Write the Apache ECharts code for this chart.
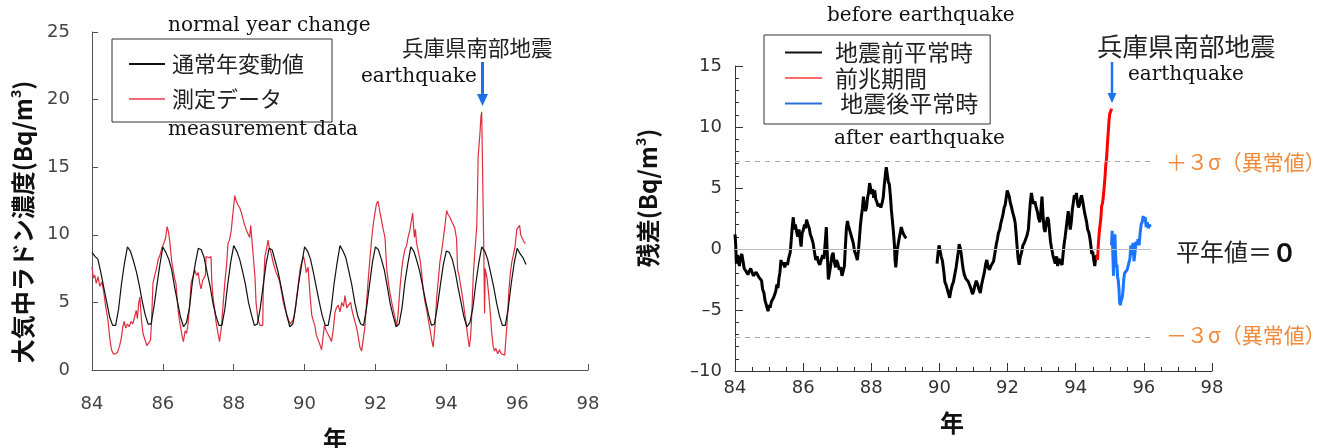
<!DOCTYPE html>
<html><head><meta charset="utf-8">
<script src="https://cdn.jsdelivr.net/npm/echarts@6/dist/echarts.min.js"></script>
<style>html,body{margin:0;padding:0;background:#fff}#c{width:1319px;height:448px}</style>
</head><body><div id="c"></div>
<script>
// ---------- DATA ----------
const xMin = 84, xMax = 98, xStep = 2;
const leftYMin = 0, leftYMax = 25, leftYStep = 5;
const rightYMin = -10, rightYMax = 15, rightYStep = 5;
const sigma3 = 7.2;          // ±3σ level
const refLineEnd = 96.2;     // end year of reference lines

// Left: normal-year change, monthly values starting Jan 1984
const normalStart = 84;
const normalMonthly = [
  8.7, 8.4, 8.2, 7.2, 6.1, 5.0, 3.9, 3.3, 3.3, 4.5, 6.4, 7.9,
  9.1, 8.8, 8.1, 7.3, 6.3, 5.1, 4.1, 3.4, 3.4, 4.7, 6.3, 7.8,
  9.1, 8.7, 8.2, 7.4, 6.1, 5.0, 3.9, 3.2, 3.5, 4.6, 6.5, 7.9,
  9.0, 8.9, 8.3, 7.2, 6.2, 4.9, 4.0, 3.3, 3.3, 4.5, 6.4, 8.0,
  9.2, 8.8, 8.2, 7.3, 6.3, 5.0, 4.1, 3.3, 3.4, 4.6, 6.3, 7.9,
  9.0, 8.9, 8.1, 7.3, 6.2, 5.1, 4.0, 3.2, 3.4, 4.7, 6.4, 7.8,
  9.1, 8.8, 8.2, 7.2, 6.1, 5.0, 4.0, 3.3, 3.3, 4.5, 6.4, 7.9,
  9.2, 8.8, 8.3, 7.3, 6.3, 5.0, 4.0, 3.4, 3.3, 4.6, 6.3, 8.0,
  9.1, 8.9, 8.2, 7.4, 6.2, 4.9, 4.0, 3.2, 3.4, 4.6, 6.5, 7.9,
  9.1, 8.8, 8.1, 7.3, 6.2, 5.1, 4.1, 3.3, 3.4, 4.7, 6.3, 7.8,
  8.8, 8.7, 8.2, 7.3, 6.1, 5.0, 3.9, 3.2, 3.5, 4.6, 6.4, 7.9,
  9.1, 8.8, 8.2, 7.2, 6.2, 5.0, 4.0, 3.3, 3.3, 4.6, 6.4, 7.9,
  9.0, 8.6, 8.3, 7.8
];

// Left: measured radon concentration [year, Bq/m3]
const measured = [
  [84.00,7.6],[84.04,6.8],[84.08,7.0],[84.12,6.4],[84.17,6.9],[84.22,6.2],[84.28,6.5],[84.33,5.8],[84.38,4.8],[84.45,3.7],
  [84.50,2.4],[84.55,1.5],[84.60,1.2],[84.66,1.2],[84.72,1.3],[84.78,1.8],[84.83,2.4],[84.87,3.2],[84.91,3.6],[84.95,3.1],
  [85.00,3.4],[85.05,3.2],[85.10,3.6],[85.15,3.4],[85.20,3.9],[85.25,4.4],[85.28,3.8],[85.32,5.0],[85.35,5.4],[85.40,3.6],
  [85.44,2.7],[85.50,2.2],[85.55,1.8],[85.60,1.7],[85.65,2.2],[85.68,3.5],[85.72,6.4],[85.77,7.0],[85.82,7.5],[85.87,8.2],
  [85.92,8.5],[85.97,9.0],[86.03,9.4],[86.08,9.8],[86.12,10.6],[86.16,10.2],[86.20,9.4],[86.25,8.0],[86.29,7.4],[86.33,6.8],
  [86.37,6.4],[86.42,4.7],[86.46,3.8],[86.50,3.2],[86.55,2.4],[86.58,2.1],[86.63,2.9],[86.67,2.7],[86.71,3.4],[86.76,4.9],
  [86.80,6.5],[86.85,6.9],[86.90,7.4],[86.95,7.0],[87.00,7.2],[87.04,6.4],[87.08,6.0],[87.12,6.6],[87.17,6.5],[87.20,7.0],
  [87.22,8.4],[87.30,8.3],[87.36,8.4],[87.38,6.6],[87.41,5.5],[87.46,4.5],[87.50,3.6],[87.55,2.8],[87.60,2.1],[87.65,3.1],
  [87.70,4.8],[87.75,6.5],[87.80,7.8],[87.84,9.4],[87.88,9.6],[87.93,10.3],[87.97,11.4],[88.03,12.9],[88.07,12.5],[88.12,12.2],
  [88.17,12.0],[88.22,11.6],[88.26,11.2],[88.30,10.8],[88.35,10.4],[88.40,10.3],[88.45,9.8],[88.48,10.7],[88.52,9.4],[88.56,9.4],
  [88.60,6.9],[88.63,5.0],[88.68,3.8],[88.74,3.3],[88.82,3.3],[88.83,5.5],[88.88,8.4],[88.93,9.0],[88.97,9.6],[89.00,9.1],
  [89.05,8.7],[89.10,8.1],[89.15,7.6],[89.20,7.2],[89.25,6.9],[89.30,6.5],[89.35,5.8],[89.40,5.0],[89.45,4.5],[89.50,4.1],
  [89.55,3.7],[89.60,3.4],[89.65,3.6],[89.70,3.8],[89.74,4.6],[89.78,5.5],[89.83,6.5],[89.87,7.4],[89.92,8.0],[89.97,8.4],
  [90.01,7.9],[90.05,7.2],[90.10,7.6],[90.15,5.7],[90.20,4.1],[90.25,3.6],[90.29,3.3],[90.33,2.6],[90.38,2.5],[90.43,1.9],
  [90.48,1.5],[90.52,2.4],[90.56,3.3],[90.61,2.9],[90.66,2.8],[90.71,2.4],[90.76,2.1],[90.81,3.0],[90.86,4.3],[90.90,4.6],
  [90.95,4.8],[91.00,4.3],[91.05,5.0],[91.10,4.7],[91.14,5.5],[91.19,4.6],[91.24,4.5],[91.30,5.0],[91.34,4.4],[91.37,4.1],
  [91.42,3.6],[91.47,3.1],[91.52,2.4],[91.56,1.7],[91.61,1.4],[91.65,1.3],[91.70,3.1],[91.75,5.0],[91.80,6.8],[91.85,8.4],
  [91.89,9.6],[91.93,10.6],[91.98,11.5],[92.03,12.3],[92.07,12.5],[92.10,12.4],[92.14,11.5],[92.17,11.1],[92.22,10.4],[92.27,9.8],
  [92.32,7.4],[92.37,6.4],[92.41,5.7],[92.46,5.0],[92.50,4.5],[92.55,3.9],[92.60,3.3],[92.64,4.1],[92.69,6.0],[92.74,7.4],
  [92.78,8.2],[92.83,8.9],[92.88,9.2],[92.92,9.8],[92.97,10.3],[93.00,10.8],[93.05,11.6],[93.10,9.8],[93.13,10.4],[93.16,9.4],
  [93.20,8.9],[93.27,8.0],[93.31,7.0],[93.35,5.9],[93.40,5.0],[93.45,4.4],[93.50,3.6],[93.54,3.0],[93.59,2.2],[93.63,1.7],
  [93.68,3.2],[93.73,5.4],[93.78,6.8],[93.82,8.0],[93.87,8.8],[93.91,9.6],[93.96,10.6],[94.01,11.8],[94.05,11.5],[94.10,11.3],
  [94.15,11.0],[94.19,10.9],[94.24,10.5],[94.29,9.7],[94.32,7.4],[94.36,7.0],[94.39,6.5],[94.44,5.7],[94.48,5.0],[94.53,4.0],
  [94.58,3.0],[94.62,2.2],[94.65,1.7],[94.68,2.3],[94.71,3.5],[94.76,6.9],[94.81,8.9],[94.86,10.6],[94.88,13.0],[94.90,15.8],
  [94.95,17.5],[94.98,18.8],[95.00,19.1],[95.04,19.0],[95.06,8.6],[95.08,4.2],[95.10,7.5],[95.15,6.8],[95.20,5.5],[95.25,4.0],
  [95.28,2.8],[95.32,1.8],[95.36,1.4],[95.40,1.6],[95.45,1.2],[95.50,1.5],[95.55,1.2],[95.60,1.3],[95.65,1.1],[95.68,2.2],
  [95.72,3.6],[95.77,6.0],[95.81,7.2],[95.85,8.0],[95.90,8.6],[95.94,9.1],[95.99,10.4],[96.03,10.5],[96.07,10.7],[96.10,10.0],
  [96.13,10.1],[96.17,9.6],[96.21,9.4],[96.24,9.4]
];

// Right: residuals [year, Bq/m3]
const beforeA = [
  [84.00,1.2],[84.02,0.4],[84.04,-1.2],[84.07,-0.5],[84.10,-0.6],[84.13,-1.4],[84.16,-0.7],[84.20,-0.4],[84.23,-0.9],[84.27,-1.6],
  [84.30,-1.7],[84.34,-1.9],[84.38,-2.1],[84.42,-1.8],[84.46,-1.6],[84.50,-1.7],[84.54,-2.2],[84.58,-2.1],[84.62,-1.9],[84.66,-1.8],
  [84.70,-2.3],[84.74,-2.4],[84.78,-2.6],[84.81,-3.3],[84.85,-3.6],[84.88,-4.2],[84.91,-4.5],[84.94,-4.8],[84.97,-5.1],[85.00,-4.6],
  [85.03,-4.8],[85.07,-4.3],[85.10,-4.4],[85.13,-4.0],[85.17,-3.7],[85.20,-3.4],[85.23,-2.9],[85.26,-3.2],[85.29,-2.4],[85.32,-1.9],
  [85.35,-0.9],[85.38,-1.3],[85.42,-1.1],[85.46,-1.5],[85.50,-1.1],[85.54,-1.3],[85.58,-0.7],[85.62,-0.3],[85.65,0.7],[85.68,1.8],
  [85.71,2.6],[85.74,1.6],[85.77,2.0],[85.81,1.4],[85.84,1.0],[85.88,1.6],[85.91,0.9],[85.94,0.2],[85.97,1.3],[86.00,1.5],
  [86.04,2.0],[86.07,1.7],[86.10,2.4],[86.14,2.0],[86.18,1.7],[86.21,1.2],[86.25,0.9],[86.29,0.5],[86.33,-0.2],[86.37,-0.9],
  [86.41,-0.6],[86.45,-1.1],[86.49,-1.3],[86.53,-0.9],[86.57,-0.5],[86.61,-0.8],[86.65,0.6],[86.68,1.8],[86.71,-0.5],[86.74,-2.5],
  [86.77,-2.0],[86.80,-1.5],[86.84,-0.6],[86.88,-0.3],[86.91,-1.0],[86.95,-1.5],[86.98,-0.9],[87.02,-1.2],[87.06,-1.7],[87.10,-1.5],
  [87.14,-2.2],[87.18,-2.3],[87.21,-1.4],[87.24,0.2],[87.27,1.7],[87.30,2.3],[87.33,1.9],[87.36,1.8],[87.39,1.3],[87.43,0.9],
  [87.47,0.5],[87.51,-0.2],[87.55,-0.5],[87.59,-0.9],[87.62,-0.2],[87.65,0.8],[87.68,1.9],[87.71,2.7],[87.74,3.3],[87.77,4.3],
  [87.80,3.5],[87.83,3.1],[87.86,3.4],[87.89,4.2],[87.92,4.6],[87.95,5.4],[87.98,5.0],[88.01,4.5],[88.04,4.9],[88.07,4.2],
  [88.10,4.8],[88.13,4.1],[88.17,3.8],[88.20,3.5],[88.24,3.7],[88.28,3.4],[88.32,3.8],[88.35,4.2],[88.38,5.2],[88.41,6.0],
  [88.44,6.7],[88.47,6.1],[88.50,5.5],[88.53,5.3],[88.56,4.4],[88.59,3.2],[88.62,2.3],[88.65,1.4],[88.68,0.3],[88.70,-1.0],
  [88.72,-1.5],[88.74,-0.8],[88.76,-0.1],[88.79,0.4],[88.82,0.9],[88.85,1.3],[88.88,1.8],[88.91,1.5],[88.95,1.2],[88.99,1.0],
  [89.03,0.9]
];
const beforeB = [
  [89.93,-1.2],[89.96,-0.3],[89.99,0.3],[90.02,0.2],[90.05,-0.6],[90.09,-1.0],[90.13,-1.9],[90.16,-2.7],[90.20,-3.0],[90.24,-3.4],
  [90.27,-3.7],[90.30,-4.0],[90.33,-3.5],[90.37,-3.0],[90.41,-2.7],[90.45,-2.1],[90.49,-1.5],[90.52,-0.9],[90.55,-0.3],[90.58,0.4],
  [90.61,0.1],[90.64,-0.4],[90.67,-1.1],[90.70,-1.7],[90.73,-2.1],[90.77,-2.4],[90.81,-2.5],[90.85,-2.7],[90.89,-3.0],[90.93,-3.3],
  [90.97,-3.7],[91.00,-3.5],[91.04,-3.0],[91.08,-2.6],[91.12,-2.9],[91.16,-3.3],[91.20,-3.6],[91.24,-2.9],[91.28,-2.4],[91.32,-1.9],
  [91.36,-1.2],[91.39,-0.9],[91.43,-1.5],[91.47,-1.7],[91.51,-1.4],[91.55,-1.2],[91.59,-1.0],[91.63,-0.3],[91.67,0.4],[91.70,0.8],
  [91.73,1.3],[91.77,1.6],[91.80,2.1],[91.83,2.4],[91.87,2.9],[91.90,3.4],[91.93,3.6],[91.96,4.2],[91.99,4.8],[92.02,4.7],
  [92.05,4.3],[92.08,3.8],[92.11,3.5],[92.15,3.0],[92.19,2.6],[92.22,2.2],[92.25,1.3],[92.28,0.2],[92.31,-0.8],[92.34,-1.3],
  [92.37,-0.7],[92.41,-0.3],[92.45,0.3],[92.49,0.5],[92.53,0.8],[92.57,1.1],[92.61,1.6],[92.64,2.8],[92.67,3.9],[92.70,4.6],
  [92.73,4.1],[92.76,3.7],[92.80,3.9],[92.84,3.4],[92.88,3.0],[92.91,2.5],[92.95,2.2],[92.98,3.2],[93.01,4.3],[93.04,2.8],
  [93.07,1.7],[93.10,1.4],[93.13,2.0],[93.17,2.6],[93.20,2.4],[93.23,1.5],[93.26,0.6],[93.29,0.1],[93.33,-0.5],[93.37,-0.9],
  [93.40,-1.2],[93.44,-0.6],[93.47,-1.4],[93.51,-0.8],[93.55,-1.1],[93.60,-1.3],[93.63,-0.4],[93.66,0.4],[93.69,1.0],[93.72,1.7],
  [93.75,2.4],[93.78,3.1],[93.81,2.3],[93.84,1.6],[93.87,2.2],[93.90,3.2],[93.93,3.8],[93.96,4.4],[93.99,4.1],[94.02,4.6],
  [94.05,3.8],[94.08,3.4],[94.11,3.6],[94.14,4.1],[94.17,4.4],[94.20,4.0],[94.23,3.5],[94.26,3.0],[94.29,2.6],[94.32,2.2],
  [94.35,1.6],[94.38,1.4],[94.41,1.0],[94.44,0.4],[94.47,-0.4],[94.50,-0.2],[94.53,-0.9],[94.56,-1.4],[94.59,-0.6],[94.62,-0.6]
];
const precursor = [
  [94.62,-0.6],[94.64,-0.9],[94.66,0.2],[94.68,1.0],[94.70,1.6],[94.72,2.1],[94.74,2.6],[94.76,3.5],[94.79,3.8],[94.81,4.3],
  [94.83,4.9],[94.86,5.9],[94.88,6.8],[94.91,7.6],[94.93,8.6],[94.96,9.8],[94.98,10.6],[95.00,11.1],[95.03,11.3],[95.05,11.5]
];
const after = [
  [95.05,0.3],[95.07,1.5],[95.09,-0.5],[95.11,-2.2],[95.13,0.2],[95.15,1.2],[95.17,-0.5],[95.19,-1.5],[95.21,-1.3],[95.23,-2.3],
  [95.25,-2.6],[95.27,-3.3],[95.29,-4.4],[95.31,-4.6],[95.33,-4.3],[95.35,-4.4],[95.37,-3.9],[95.39,-3.3],[95.41,-2.5],[95.43,-2.0],
  [95.47,-1.9],[95.51,-1.7],[95.55,-1.6],[95.59,-0.8],[95.62,0.3],[95.65,-0.5],[95.68,0.5],[95.71,-1.0],[95.74,-0.3],[95.77,0.6],
  [95.80,0.3],[95.83,0.8],[95.86,0.3],[95.89,1.3],[95.92,2.0],[95.95,2.2],[95.98,2.7],[96.01,2.3],[96.04,2.6],[96.07,1.8],
  [96.10,2.2],[96.13,1.7],[96.16,2.0],[96.19,1.8]
];

// ---------- CHART ----------
const JP = '"Noto Sans CJK JP", "Noto Sans CJK SC", sans-serif';
const SERIF = '"DejaVu Serif", serif';
const NUM = '"DejaVu Sans", sans-serif';
const BLUE = '#1a72e6';
const ORANGE = '#f08a3c';

const normalData = normalMonthly.map((v, i) => [normalStart + i / 12, v]);
const negFmt = v => (v < 0 ? '\u2013' + Math.abs(v) : String(v));

const chart = echarts.init(document.getElementById('c'), null, { renderer: 'canvas' });

function axisCommon(color, labelColor, margin) {
  return {
    axisLine: { show: true, onZero: false, lineStyle: { color: color, width: 1 } },
    axisTick: { show: true, inside: true, lineStyle: { color: color, width: 1 } },
    axisLabel: { margin: margin, fontSize: 18, color: labelColor, fontFamily: NUM },
    splitLine: { show: false }
  };
}

const option = {
  backgroundColor: '#fff',
  animation: false,
  grid: [
    { left: 92, top: 32, width: 496, height: 338 },
    { left: 735, top: 66, width: 477, height: 305 }
  ],
  xAxis: [
    Object.assign({ gridIndex: 0, type: 'value', min: xMin, max: xMax, interval: xStep }, axisCommon('#555', '#444', 25),
      { axisTick: { show: true, inside: true, length: 6, lineStyle: { color: '#555' } } }),
    Object.assign({ gridIndex: 1, type: 'value', min: xMin, max: xMax, interval: xStep }, axisCommon('#333', '#333', 8),
      { axisTick: { show: true, inside: true, length: 8, lineStyle: { color: '#333' } },
        minorTick: { show: true, splitNumber: 4, length: 4, lineStyle: { color: '#333' } } })
  ],
  yAxis: [
    Object.assign({ gridIndex: 0, type: 'value', min: leftYMin, max: leftYMax, interval: leftYStep }, axisCommon('#555', '#444', 22),
      { axisTick: { show: true, inside: true, length: 6, lineStyle: { color: '#555' } } }),
    Object.assign({ gridIndex: 1, type: 'value', min: rightYMin, max: rightYMax, interval: rightYStep }, axisCommon('#333', '#333', 13),
      { axisTick: { show: true, inside: true, length: 8, lineStyle: { color: '#333' } },
        minorTick: { show: true, splitNumber: 5, length: 4, lineStyle: { color: '#333' } } })
  ],
  legend: [
    {
      left: 112, top: 39, orient: 'vertical', icon: 'rect', itemWidth: 36, itemHeight: 2,
      itemGap: 13, padding: [14, 28, 12, 17], borderColor: '#333', borderWidth: 1,
      backgroundColor: '#fff', selectedMode: false,
      textStyle: { fontSize: 22, lineHeight: 22, color: '#222', fontFamily: JP, padding: [0, 0, 0, 2] },
      data: [{ name: '通常年変動値', itemStyle: { color: '#111' } }, { name: '測定データ', itemStyle: { color: '#f26a7a' } }]
    },
    {
      left: 764, top: 35, orient: 'vertical', icon: 'rect', itemWidth: 37, itemHeight: 2,
      itemGap: 2.5, padding: [6, 12, 9, 21], borderColor: '#333', borderWidth: 1,
      backgroundColor: '#fff', selectedMode: false,
      formatter: n => (n === '地震後平常時' ? ' ' + n : n),
      textStyle: { fontSize: 23, lineHeight: 23, color: '#222', fontFamily: JP, padding: [0, 0, 0, 8] },
      data: [{ name: '地震前平常時', itemStyle: { color: '#111' } }, { name: '前兆期間', itemStyle: { color: '#ff6b6b' } },
             { name: '地震後平常時', itemStyle: { color: '#2a6fd6' } }]
    }
  ],
  series: [
    { name: '測定データ', type: 'line', xAxisIndex: 0, yAxisIndex: 0, data: measured, showSymbol: false,
      lineStyle: { color: '#dd2e3e', width: 1.2 }, itemStyle: { color: '#dd2e3e' }, z: 2 },
    { name: '通常年変動値', type: 'line', xAxisIndex: 0, yAxisIndex: 0, data: normalData, showSymbol: false,
      lineStyle: { color: '#111', width: 1.2 }, itemStyle: { color: '#111' }, z: 3 },
    { name: 'ref', type: 'line', xAxisIndex: 1, yAxisIndex: 1, data: [], z: 1, silent: true,
      markLine: { silent: true, symbol: 'none', label: { show: false }, animation: false,
        data: [
          [{ coord: [xMin, 0], lineStyle: { color: '#bbb', width: 1, type: 'solid' } }, { coord: [refLineEnd, 0] }],
          [{ coord: [xMin, sigma3], lineStyle: { color: '#aaa', width: 1, type: [5, 5] } }, { coord: [refLineEnd, sigma3] }],
          [{ coord: [xMin, -sigma3], lineStyle: { color: '#aaa', width: 1, type: [5, 5] } }, { coord: [refLineEnd, -sigma3] }]
        ] } },
    { name: '地震前平常時', type: 'line', xAxisIndex: 1, yAxisIndex: 1, data: beforeA, showSymbol: false,
      lineStyle: { color: '#000', width: 3 }, itemStyle: { color: '#000' }, z: 3 },
    { name: '地震前平常時', type: 'line', xAxisIndex: 1, yAxisIndex: 1, data: beforeB, showSymbol: false,
      lineStyle: { color: '#000', width: 3 }, itemStyle: { color: '#000' }, z: 3 },
    { name: '前兆期間', type: 'line', xAxisIndex: 1, yAxisIndex: 1, data: precursor, showSymbol: false,
      lineStyle: { color: '#ff0000', width: 3 }, itemStyle: { color: '#ff0000' }, z: 4 },
    { name: '地震後平常時', type: 'line', xAxisIndex: 1, yAxisIndex: 1, data: after, showSymbol: false,
      lineStyle: { color: '#1a75ff', width: 3 }, itemStyle: { color: '#1a75ff' }, z: 4 }
  ],
  graphic: [
    // axis titles
    { type: 'text', x: 23, y: 222, rotation: Math.PI / 2, z: 10,
      style: { text: '{t|大気中ラドン濃度(Bq/m}{s|3}{t|)}', textAlign: 'center', textVerticalAlign: 'middle',
        rich: { t: { fontSize: 24, fontWeight: 'bold', fontFamily: JP, fill: '#111', lineHeight: 28 },
                s: { fontSize: 14, fontWeight: 'bold', fontFamily: JP, fill: '#111', verticalAlign: 'top', lineHeight: 14 } } } },
    { type: 'text', x: 648, y: 198, rotation: Math.PI / 2, z: 10,
      style: { text: '{t|残差(Bq/m}{s|3}{t|)}', textAlign: 'center', textVerticalAlign: 'middle',
        rich: { t: { fontSize: 24, fontWeight: 'bold', fontFamily: JP, fill: '#111', lineHeight: 28 },
                s: { fontSize: 14, fontWeight: 'bold', fontFamily: JP, fill: '#111', verticalAlign: 'top', lineHeight: 14 } } } },
    { type: 'text', x: 335, y: 439, z: 10, style: { text: '年', fontSize: 24, fontWeight: 'bold', fontFamily: JP, fill: '#111', textAlign: 'center', textVerticalAlign: 'middle' } },
    { type: 'text', x: 952, y: 423, z: 10, style: { text: '年', fontSize: 24, fontWeight: 'bold', fontFamily: JP, fill: '#111', textAlign: 'center', textVerticalAlign: 'middle' } },
    // English annotations
    { type: 'text', x: 168, y: 26, z: 10, style: { text: 'normal year change', fontSize: 20, fontFamily: SERIF, fill: '#111', textVerticalAlign: 'middle' } },
    { type: 'text', x: 168, y: 130, z: 10, style: { text: 'measurement data', fontSize: 20, fontFamily: SERIF, fill: '#111', textVerticalAlign: 'middle' } },
    { type: 'text', x: 361, y: 77, z: 10, style: { text: 'earthquake', fontSize: 20, fontFamily: SERIF, fill: '#111', textVerticalAlign: 'middle' } },
    { type: 'text', x: 827, y: 16, z: 10, style: { text: 'before earthquake', fontSize: 20, fontFamily: SERIF, fill: '#111', textVerticalAlign: 'middle' } },
    { type: 'text', x: 834, y: 139, z: 10, style: { text: 'after earthquake', fontSize: 20, fontFamily: SERIF, fill: '#111', textVerticalAlign: 'middle' } },
    { type: 'text', x: 1128, y: 75, z: 10, style: { text: 'earthquake', fontSize: 20, fontFamily: SERIF, fill: '#111', textVerticalAlign: 'middle' } },
    // Japanese annotations
    { type: 'text', x: 402, y: 48, z: 10, style: { text: '兵庫県南部地震', fontSize: 21.5, fontFamily: JP, fill: '#222', textVerticalAlign: 'middle' } },
    { type: 'text', x: 1097, y: 46, z: 10, style: { text: '兵庫県南部地震', fontSize: 25.5, fontFamily: JP, fill: '#222', textVerticalAlign: 'middle' } },
    { type: 'text', x: 1176, y: 252, z: 10,
      style: { text: '{a|平年値＝}{b|０}', textVerticalAlign: 'middle',
        rich: { a: { fontSize: 24, fontFamily: JP, fill: '#222' }, b: { fontSize: 25, fontFamily: JP, fontWeight: 'bold', fill: '#111' } } } },
    { type: 'text', x: 1166, y: 162, z: 10, style: { text: '＋３σ（異常値）', fontSize: 21, fontFamily: JP, fill: ORANGE, textVerticalAlign: 'middle' } },
    { type: 'text', x: 1166, y: 335, z: 10, style: { text: '－３σ（異常値）', fontSize: 21, fontFamily: JP, fill: ORANGE, textVerticalAlign: 'middle' } },
    // arrows
    { type: 'line', z: 10, shape: { x1: 482.5, y1: 62, x2: 482.5, y2: 96 }, style: { stroke: BLUE, lineWidth: 3 } },
    { type: 'polygon', z: 10, shape: { points: [[477, 94], [488, 94], [482.5, 106]] }, style: { fill: BLUE } },
    { type: 'line', z: 10, shape: { x1: 1112, y1: 62, x2: 1112, y2: 95 }, style: { stroke: BLUE, lineWidth: 2.5 } },
    { type: 'polygon', z: 10, shape: { points: [[1107.5, 93], [1116.5, 93], [1112, 103]] }, style: { fill: BLUE } }
  ]
};
option.yAxis[1].axisLabel.formatter = negFmt;
chart.setOption(option);
</script></body></html>
